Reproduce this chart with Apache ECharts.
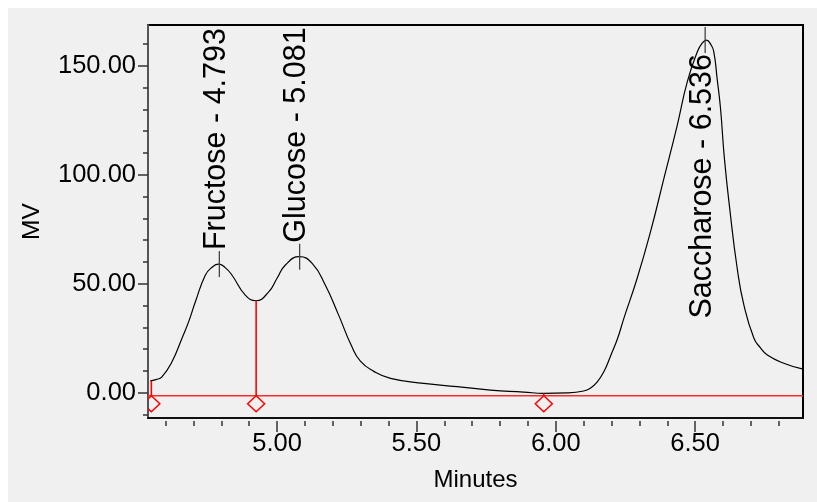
<!DOCTYPE html>
<html><head><meta charset="utf-8">
<script src="https://cdn.jsdelivr.net/npm/echarts@6/dist/echarts.min.js"></script>
<style>
html,body{margin:0;padding:0;background:#ffffff;}
#wrap{position:relative;width:817px;height:502px;overflow:hidden;}
#bg{position:absolute;left:8px;top:8px;width:809px;height:494px;background:#f0f0f0;}
#c{position:absolute;left:0;top:0;width:817px;height:502px;}
</style>
</head><body>
<div id="wrap"><div id="bg"></div><div id="c"></div></div>
<script>
// ---- data ----
const times = [4.545, 4.565, 4.587, 4.623, 4.659, 4.683, 4.707, 4.743, 4.767, 4.790, 4.814, 4.838, 4.886, 4.925, 4.970, 5.000, 5.030, 5.080, 5.126, 5.173, 5.221, 5.267, 5.299, 5.347, 5.407, 5.526, 5.646, 5.766, 5.885, 5.957, 6.041, 6.100, 6.125, 6.149, 6.172, 6.197, 6.222, 6.244, 6.292, 6.340, 6.388, 6.436, 6.472, 6.508, 6.524, 6.541, 6.556, 6.567, 6.579, 6.591, 6.605, 6.624, 6.651, 6.675, 6.711, 6.735, 6.759, 6.818, 6.884];
const mv = [5.4, 6.0, 7.3, 14.2, 25.0, 32.6, 41.7, 54.0, 57.6, 59.0, 57.4, 54.0, 44.8, 42.2, 46.3, 52.5, 58.6, 62.4, 59.3, 49.4, 35.6, 21.5, 14.5, 9.8, 6.6, 4.3, 2.8, 1.2, 0.3, -0.3, -0.1, 0.8, 2.2, 5.0, 9.5, 17.0, 25.0, 34.0, 52.5, 73.9, 98.3, 122.8, 142.7, 156.4, 160.2, 161.8, 159.8, 156.4, 144.0, 130.5, 107.5, 84.6, 57.0, 40.2, 25.0, 20.5, 17.3, 13.5, 10.9];

const peakNames = ['Fructose', 'Glucose', 'Saccharose'];
const peakTimes = [4.793, 5.081, 6.536];
const peakHeights = [59.0, 62.4, 161.8];

const dropTimes = [4.549, 4.925, 5.957];
const dropHeights = [5.5, 42.2, -0.3];
const baselineMV = -1.4;

const xRange = [4.537, 6.887];
const yRange = [-11.6, 168.7];
const xMajorTicks = [5.0, 5.5, 6.0, 6.5];
const xMinorTicks = [4.6, 4.7, 4.8, 4.9, 5.0, 5.1, 5.2, 5.3, 5.4, 5.5, 5.6, 5.7, 5.8, 5.9, 6.0, 6.1, 6.2, 6.3, 6.4, 6.5, 6.6, 6.7, 6.8];
const yMajorTicks = [0, 50, 100, 150];
const yMinorTicks = [-10, 0, 10, 20, 30, 40, 50, 60, 70, 80, 90, 100, 110, 120, 130, 140, 150, 160];

// ---- chart ----
const FONT = '"Liberation Sans", Arial, sans-serif';
const LABEL_FONT_SIZE = 30.5;
const measureCtx = document.createElement('canvas').getContext('2d');
function textWidth(t) {
  measureCtx.font = LABEL_FONT_SIZE + 'px ' + FONT;
  return measureCtx.measureText(t).width;
}
const chart = echarts.init(document.getElementById('c'), null, {renderer: 'canvas'});
const tickStyle = {color: '#333', width: 1.5};
const fmt = v => Number(v).toFixed(2);

const option = {
  backgroundColor: 'transparent',
  animation: false,
  grid: {left: 148, right: 14, top: 25, bottom: 84, show: true, borderColor: '#000', borderWidth: 2, backgroundColor: 'transparent'},
  xAxis: [
    {type: 'value', min: xRange[0], max: xRange[1], position: 'bottom',
     axisLine: {show: true, onZero: false, lineStyle: {color: '#111', width: 2}},
     axisTick: {show: false}, axisLabel: {show: false}, splitLine: {show: false},
     name: 'Minutes', nameLocation: 'middle', nameGap: 50,
     nameTextStyle: {fontSize: 24, color: '#000', fontFamily: FONT}},
    {type: 'value', min: xRange[0], max: xRange[1], position: 'bottom', offset: 3,
     axisLine: {show: false, onZero: false},
     axisTick: {show: true, customValues: xMinorTicks, length: 5, lineStyle: tickStyle},
     axisLabel: {show: false}, splitLine: {show: false}},
    {type: 'value', min: xRange[0], max: xRange[1], position: 'bottom', offset: 3,
     axisLine: {show: false, onZero: false},
     axisTick: {show: true, customValues: xMajorTicks, length: 11, lineStyle: tickStyle},
     axisLabel: {show: true, customValues: xMajorTicks, formatter: fmt, fontSize: 25.5, color: '#000', fontFamily: FONT, margin: 10},
     splitLine: {show: false}}
  ],
  yAxis: [
    {type: 'value', min: yRange[0], max: yRange[1], position: 'left',
     axisLine: {show: true, onZero: false, lineStyle: {color: '#555', width: 2}},
     axisTick: {show: true, customValues: yMajorTicks, length: 10, lineStyle: tickStyle},
     axisLabel: {show: true, customValues: yMajorTicks, formatter: fmt, fontSize: 25.5, color: '#000', fontFamily: FONT, margin: 12},
     splitLine: {show: false},
     name: 'MV', nameLocation: 'middle', nameGap: 103,
     nameTextStyle: {fontSize: 24.5, color: '#000', fontFamily: FONT}},
    {type: 'value', min: yRange[0], max: yRange[1], position: 'left',
     axisLine: {show: false, onZero: false},
     axisTick: {show: true, customValues: yMinorTicks, length: 5, lineStyle: tickStyle},
     axisLabel: {show: false}, splitLine: {show: false}}
  ],
  series: [
    {type: 'line', name: 'signal', xAxisIndex: 0, yAxisIndex: 0,
     data: times.map((t, i) => [t, mv[i]]),
     showSymbol: false, symbol: 'none', smooth: 0.5,
     lineStyle: {color: '#000', width: 1.2}, z: 3, clip: true},
    {type: 'line', name: 'baseline', xAxisIndex: 0, yAxisIndex: 0,
     data: [[xRange[0], baselineMV], [xRange[1], baselineMV]],
     showSymbol: false, symbol: 'none',
     lineStyle: {color: '#ff2a2a', width: 1.5}, z: 2},
    {type: 'custom', name: 'drops', xAxisIndex: 0, yAxisIndex: 0, clip: true, z: 4,
     data: dropTimes.map((t, i) => [t, dropHeights[i]]),
     renderItem: function (params, api) {
       const t = api.value(0), top = api.value(1);
       const p0 = api.coord([t, baselineMV]);
       const p1 = api.coord([t, top]);
       const w = 8.5, h = 8;
       return {type: 'group', children: [
         {type: 'line', shape: {x1: p0[0], y1: p0[1], x2: p1[0], y2: p1[1]}, style: {stroke: '#ff0000', lineWidth: 1.6}},
         {type: 'polygon', shape: {points: [[p0[0], p0[1]], [p0[0] + w, p0[1] + h], [p0[0], p0[1] + 2 * h], [p0[0] - w, p0[1] + h]]},
          style: {fill: 'none', stroke: '#ff0000', lineWidth: 1.5}}
       ]};
     }},
    {type: 'custom', name: 'peaks', xAxisIndex: 0, yAxisIndex: 0, clip: false, z: 5,
     data: peakTimes.map((t, i) => [t, peakHeights[i], i]),
     renderItem: function (params, api) {
       const t = api.value(0), h = api.value(1), idx = api.value(2);
       const p = api.coord([t, h]);
       const gridTop = params.coordSys.y;
       const text = peakNames[idx] + ' - ' + t.toFixed(3);
       const yTop = Math.max(p[1] - 13, gridTop + 1);
       const yBot = p[1] + 13;
       const start = p[1] - 14;
       const fits = start - textWidth(text) > gridTop + 2;
       return {type: 'group', children: [
         {type: 'line', shape: {x1: p[0], y1: yTop, x2: p[0], y2: yBot}, style: {stroke: '#444', lineWidth: 1.3}},
         {type: 'text', x: p[0] - 3, y: fits ? start : gridTop + 29, rotation: Math.PI / 2,
          style: {text: text, fontSize: LABEL_FONT_SIZE, fontFamily: FONT, fill: '#000',
                  align: fits ? 'left' : 'right', verticalAlign: 'middle'}}
       ]};
     }}
  ]
};
chart.setOption(option);
</script>
</body></html>
